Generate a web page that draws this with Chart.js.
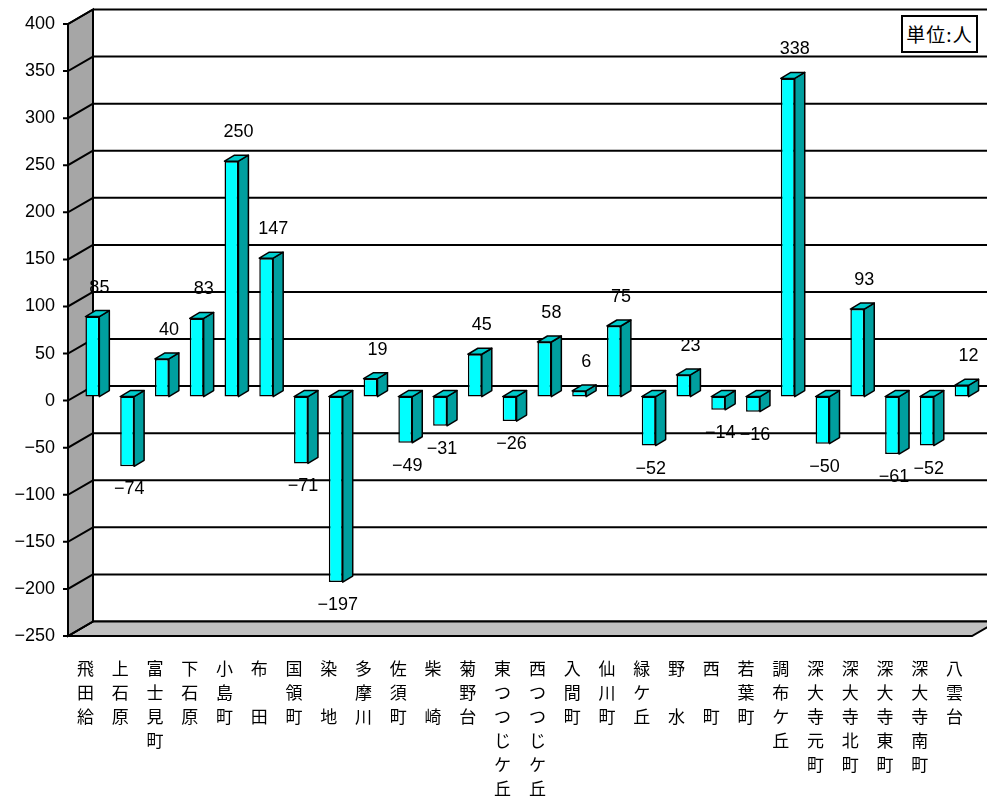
<!DOCTYPE html>
<html lang="ja">
<head>
<meta charset="UTF-8">
<title>地区別人口増減</title>
<script src="https://cdn.jsdelivr.net/npm/chart.js@4.4.1/dist/chart.umd.min.js"></script>
<style>
    body { margin: 0; background: #fff; }
    #wrap { position: relative; width: 987px; height: 798px; }
    #unit {
        position: absolute; left: 901px; top: 15px; width: 73px; height: 34px;
        border: 2px solid #000; background: #fff;
        font: 19px "Noto Sans CJK JP", sans-serif; line-height: 34px; text-align: center;
        letter-spacing: 1px;
    }
</style>
</head>
<body>
<div id="wrap">
    <canvas id="chart"></canvas>
    <div id="unit">単位:人</div>
</div>
<script>
    // 地区名 (縦書き、全角スペースは空行)
    var towns = ['飛田給', '上石原', '富士見町', '下石原', '小島町', '布　田', '国領町', '染　地',
        '多摩川', '佐須町', '柴　崎', '菊野台', '東つつじケ丘', '西つつじケ丘', '入間町', '仙川町',
        '緑ケ丘', '野　水', '西　町', '若葉町', '調布ケ丘', '深大寺元町', '深大寺北町', '深大寺東町',
        '深大寺南町', '八雲台'];
    // 増減数 (人)
    var values = [85, -74, 40, 83, 250, 147, -71, -197, 19, -49, -31, 45, -26, 58, 6, 75,
        -52, 23, -14, -16, 338, -50, 93, -61, -52, 12];
    var yMin = -250;
    var yMax = 400;
    var yStep = 50;

    // 3D の奥行き
    var wallDx = 25, wallDy = -14.5;
    var barDx = 7, barDy = -4;
    var sideDx = 10, sideDy = -6;

    function fmt(v) {
        return v < 0 ? '\u2212' + Math.abs(v) : String(v);
    }

    var frame3d = {
        id: 'frame3d',
        beforeDatasetsDraw: function(chart) {
            var ctx = chart.ctx;
            var a = chart.chartArea;
            var y = chart.scales.y;
            ctx.save();
            ctx.strokeStyle = '#000';
            ctx.lineWidth = 2;

            // 背面の目盛線
            y.ticks.forEach(function(t) {
                var py = y.getPixelForValue(t.value) + wallDy;
                ctx.beginPath();
                ctx.moveTo(a.left + wallDx, py);
                ctx.lineTo(chart.width, py);
                ctx.stroke();
            });

            // 床
            ctx.fillStyle = '#c0c0c0';
            ctx.beginPath();
            ctx.moveTo(a.left, a.bottom);
            ctx.lineTo(a.left + wallDx, a.bottom + wallDy);
            ctx.lineTo(a.right + wallDx, a.bottom + wallDy);
            ctx.lineTo(a.right, a.bottom);
            ctx.closePath();
            ctx.fill();
            ctx.stroke();

            // 左の壁
            ctx.fillStyle = '#a6a6a6';
            ctx.beginPath();
            ctx.moveTo(a.left, a.top);
            ctx.lineTo(a.left + wallDx, a.top + wallDy);
            ctx.lineTo(a.left + wallDx, a.bottom + wallDy);
            ctx.lineTo(a.left, a.bottom);
            ctx.closePath();
            ctx.fill();
            ctx.stroke();

            // 壁の斜線と目盛
            y.ticks.forEach(function(t) {
                var py = y.getPixelForValue(t.value);
                ctx.beginPath();
                ctx.moveTo(a.left - 5, py);
                ctx.lineTo(a.left, py);
                ctx.lineTo(a.left + wallDx, py + wallDy);
                ctx.stroke();
            });
            ctx.restore();

            // 棒は少し奥に描く
            ctx.save();
            ctx.translate(barDx, barDy);
        },
        afterDatasetsDraw: function(chart) {
            var ctx = chart.ctx;
            var meta = chart.getDatasetMeta(0);
            ctx.lineWidth = 1.5;
            ctx.strokeStyle = '#000';
            ctx.lineJoin = 'round';
            meta.data.forEach(function(bar) {
                var p = bar.getProps(['x', 'y', 'base', 'width'], true);
                var l = p.x - p.width / 2, r = p.x + p.width / 2;
                var top = Math.min(p.y, p.base), bot = Math.max(p.y, p.base);
                // 側面
                ctx.fillStyle = '#009f9f';
                ctx.beginPath();
                ctx.moveTo(r, top);
                ctx.lineTo(r + sideDx, top + sideDy);
                ctx.lineTo(r + sideDx, bot + sideDy);
                ctx.lineTo(r, bot);
                ctx.closePath();
                ctx.fill();
                ctx.stroke();
                // 上面
                ctx.fillStyle = '#00cccc';
                ctx.beginPath();
                ctx.moveTo(l, top);
                ctx.lineTo(l + sideDx, top + sideDy);
                ctx.lineTo(r + sideDx, top + sideDy);
                ctx.lineTo(r, top);
                ctx.closePath();
                ctx.fill();
                ctx.stroke();
            });
            ctx.restore();

            // データラベル
            ctx.save();
            ctx.fillStyle = '#000';
            ctx.font = '18px "Liberation Sans", "Noto Sans CJK JP", sans-serif';
            ctx.textAlign = 'center';
            ctx.textBaseline = 'middle';
            meta.data.forEach(function(bar, i) {
                var p = bar.getProps(['x', 'y', 'base'], true);
                var v = values[i];
                if (v >= 0) {
                    ctx.fillText(fmt(v), p.x + barDx + 7, p.y + barDy - 29);
                } else {
                    ctx.fillText(fmt(v), p.x + barDx + 2, p.y + barDy + 23);
                }
            });
            ctx.restore();
        }
    };

    Chart.defaults.font.family = '"Liberation Sans", "Noto Sans CJK JP", sans-serif';
    Chart.defaults.color = '#000';

    var ctx = document.getElementById('chart').getContext('2d');
    new Chart(ctx, {
        type: 'bar',
        data: {
            labels: towns.map(function(t) { return Array.from(t); }),
            datasets: [{
                data: values,
                backgroundColor: '#00ffff',
                borderColor: '#000',
                borderWidth: 1.5,
                borderSkipped: false,
                categoryPercentage: 1,
                barPercentage: 0.4
            }]
        },
        options: {
            responsive: true,
            maintainAspectRatio: false,
            animation: false,
            layout: { padding: { top: 24, right: 15, left: 0, bottom: 0 } },
            plugins: {
                legend: { display: false },
                tooltip: { enabled: false }
            },
            scales: {
                x: {
                    grid: { display: false, drawTicks: false },
                    border: { display: false },
                    ticks: {
                        autoSkip: false,
                        maxRotation: 0,
                        minRotation: 0,
                        padding: 22,
                        font: { size: 17, lineHeight: 1.41 }
                    },
                    afterFit: function(s) { s.height = 162; }
                },
                y: {
                    min: yMin,
                    max: yMax,
                    grid: { display: false, drawTicks: false },
                    border: { display: false },
                    ticks: {
                        stepSize: yStep,
                        padding: 13,
                        font: { size: 18 },
                        callback: function(v) { return fmt(v); }
                    },
                    afterFit: function(s) { s.width = 68; }
                }
            }
        },
        plugins: [frame3d]
    });
</script>
</body>
</html>
